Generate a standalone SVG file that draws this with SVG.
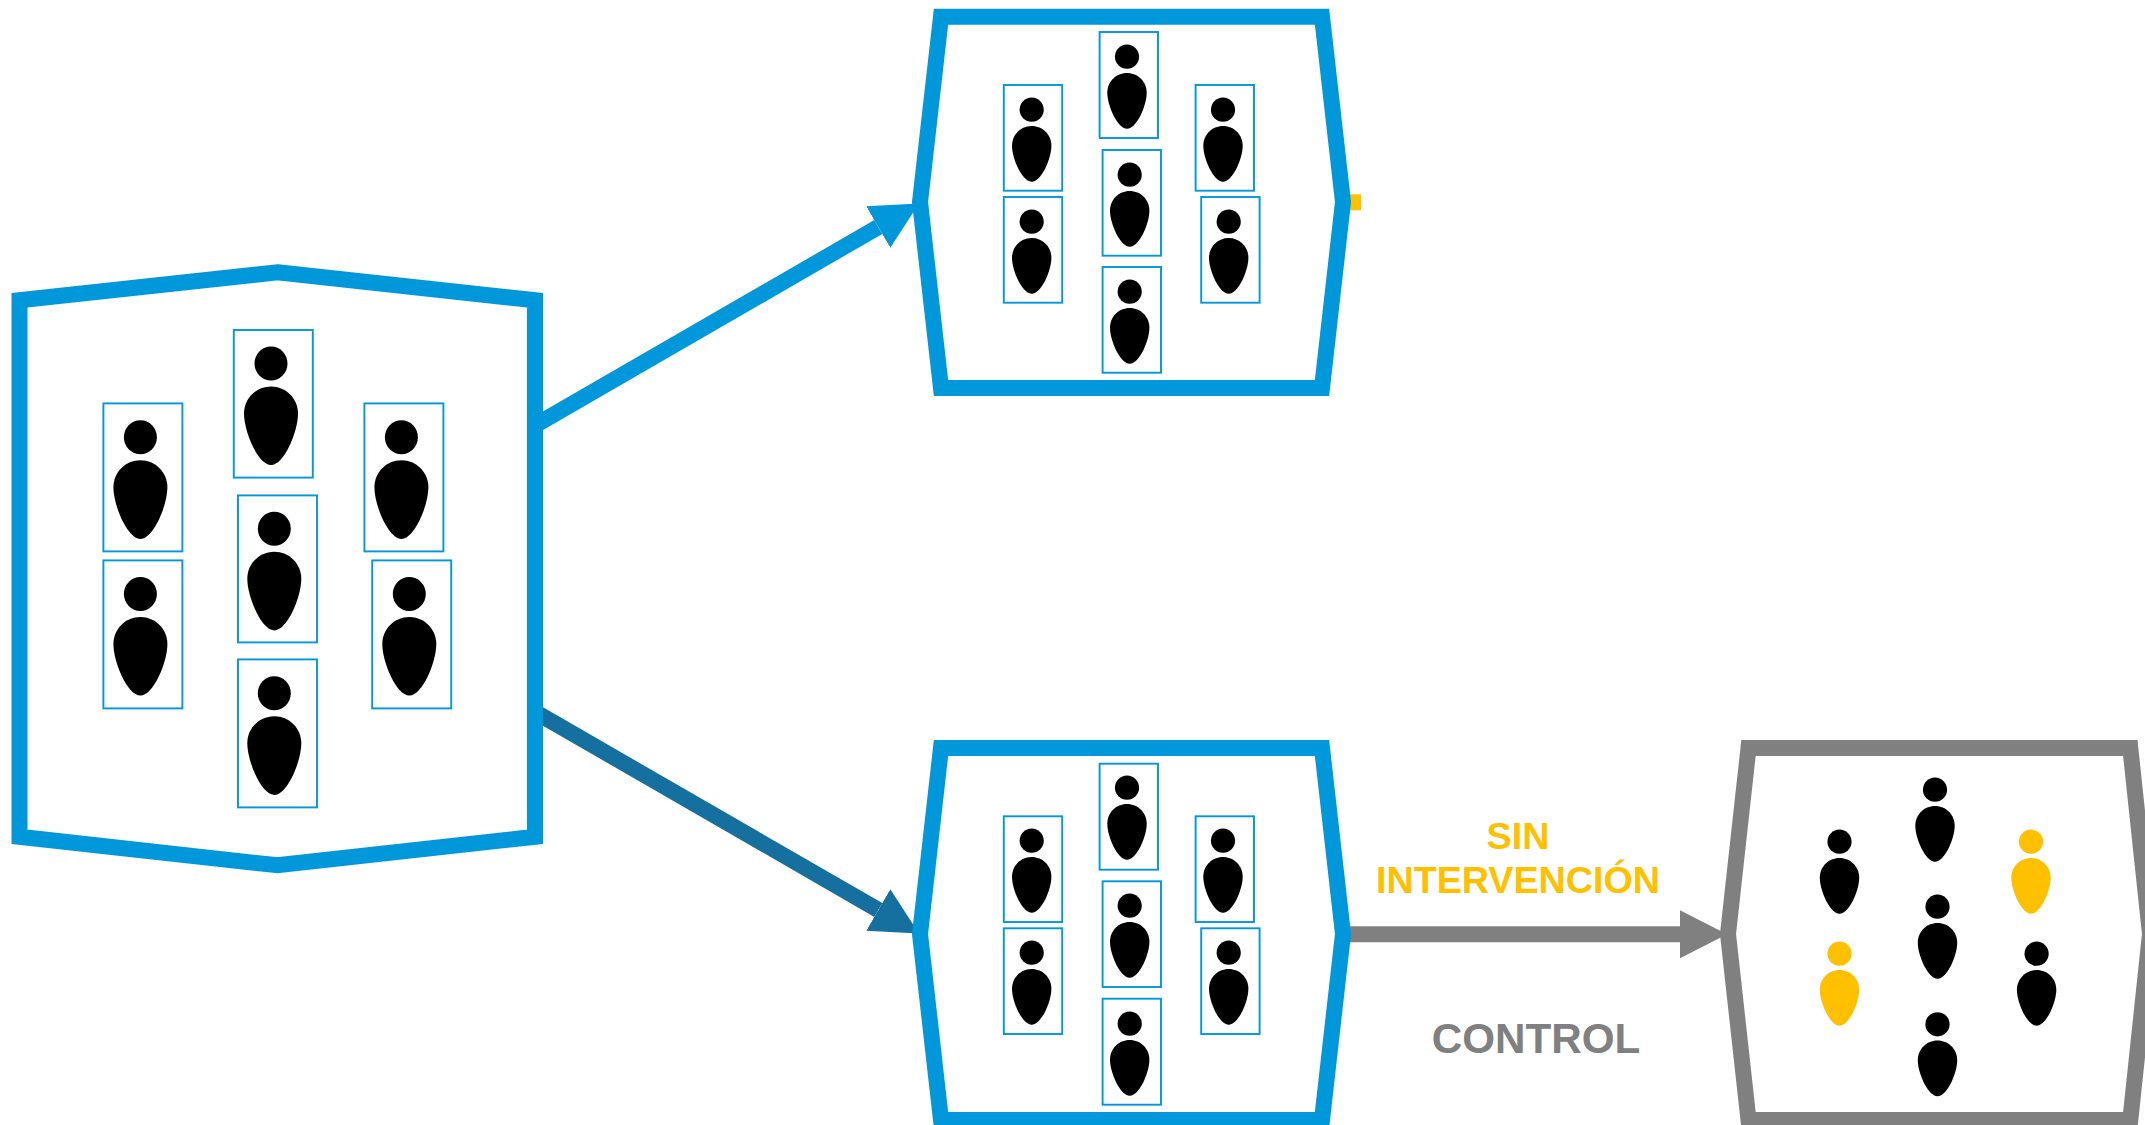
<svg xmlns="http://www.w3.org/2000/svg" width="2145" height="1125" viewBox="0 0 2145 1125">
<style>
.frame{fill:#fff;stroke-width:16;stroke-miterlimit:20}
.blue{stroke:#0098da}
.gray{stroke:#808080}
.box{fill:#fff;stroke:#0098da;stroke-width:1.9}
.link{fill:none;stroke-width:16}
.lbl{font-family:"Liberation Sans",Arial,sans-serif;font-weight:700;text-anchor:middle}
.k{fill:#000}
.y{fill:#ffc000}
</style>
<defs>
<g id="pL"><ellipse cx="0" cy="0" rx="16.5" ry="17"/><path d="M0,22.9C15,22.9 27,35 27,50C27,68 13,101.6 0,101.6C-13,101.6 -27,68 -27,50C-27,35 -15,22.9 0,22.9Z"/></g>
<g id="pM"><ellipse cx="0" cy="0" rx="12.1" ry="12.1"/><path d="M0,16.3C11,16.3 19.7,25 19.7,36C19.7,49 9.5,72 0,72C-9.5,72 -19.7,49 -19.7,36C-19.7,25 -11,16.3 0,16.3Z"/></g>
<marker id="hb" markerUnits="userSpaceOnUse" markerWidth="48" markerHeight="48" refX="0" refY="24" orient="auto"><path d="M0,0L47,24L0,48Z" fill="#0098da"/></marker>
<marker id="hd" markerUnits="userSpaceOnUse" markerWidth="48" markerHeight="48" refX="0" refY="24" orient="auto"><path d="M0,0L47,24L0,48Z" fill="#156f9f"/></marker>
<marker id="hg" markerUnits="userSpaceOnUse" markerWidth="48" markerHeight="48" refX="0" refY="24" orient="auto"><path d="M0,0L47,24L0,48Z" fill="#808080"/></marker>
</defs>
<rect width="2145" height="1125" fill="#fff"/>
<g id="connectors">
<line class="link" x1="530" y1="428.2" x2="878.3" y2="227" stroke="#0098da" marker-end="url(#hb)"/>
<line class="link" x1="530" y1="709" x2="878.3" y2="910" stroke="#156f9f" marker-end="url(#hd)"/>
<line class="link" x1="1345" y1="934.3" x2="1680" y2="934.3" stroke="#808080" marker-end="url(#hg)"/>
<rect x="1345" y="194.3" width="16" height="16" fill="#ffc000"/>
</g>
<g id="poblacion">
<polygon class="frame blue" points="277.5,272.3 535,300.3 535,836.8 277.5,865.3 19.5,836.8 19.5,300.3"/>
<g class="k">
<rect class="box" x="103.4" y="403.4" width="79" height="148"/><use href="#pL" transform="translate(140.4,437.3)"/>
<rect class="box" x="233.8" y="330" width="79" height="147.6"/><use href="#pL" transform="translate(271,363.5)"/>
<rect class="box" x="364.4" y="403.4" width="79" height="148"/><use href="#pL" transform="translate(401.4,437.3)"/>
<rect class="box" x="103.4" y="560.4" width="79" height="148"/><use href="#pL" transform="translate(140.4,594)"/>
<rect class="box" x="238" y="495.4" width="79" height="147"/><use href="#pL" transform="translate(274.3,528.8)"/>
<rect class="box" x="372.2" y="560.4" width="79" height="148"/><use href="#pL" transform="translate(409.3,594)"/>
<rect class="box" x="238" y="659.4" width="79" height="148"/><use href="#pL" transform="translate(274.3,693.3)"/>
</g>
</g>
<g id="grupo-intervencion">
<polygon class="frame blue" points="941,16.7 1322,16.7 1343,202 1322,388 941,388 920,202"/>
<g class="k">
<rect class="box" x="1003.8" y="85" width="58.4" height="105.7"/><use href="#pM" transform="translate(1031.7,109.7)"/>
<rect class="box" x="1099.6" y="32" width="58.4" height="106"/><use href="#pM" transform="translate(1127,56.7)"/>
<rect class="box" x="1195.6" y="85" width="58.4" height="105.7"/><use href="#pM" transform="translate(1223,109.7)"/>
<rect class="box" x="1003.8" y="197" width="58.4" height="105.7"/><use href="#pM" transform="translate(1031.7,221.7)"/>
<rect class="box" x="1102.6" y="150" width="58.4" height="105.7"/><use href="#pM" transform="translate(1129.7,174.7)"/>
<rect class="box" x="1201.2" y="197" width="58.4" height="105.7"/><use href="#pM" transform="translate(1228.7,221.7)"/>
<rect class="box" x="1102.6" y="267" width="58.4" height="105.7"/><use href="#pM" transform="translate(1129.7,291.7)"/>
</g>
</g>
<g id="grupo-control">
<polygon class="frame blue" points="941,748 1322,748 1343,934 1322,1120 941,1120 920,934"/>
<g class="k">
<rect class="box" x="1003.8" y="816.3" width="58.4" height="105.7"/><use href="#pM" transform="translate(1031.7,840.7)"/>
<rect class="box" x="1099.6" y="763.7" width="58.4" height="106"/><use href="#pM" transform="translate(1127,787.7)"/>
<rect class="box" x="1195.6" y="816.3" width="58.4" height="105.7"/><use href="#pM" transform="translate(1223,840.7)"/>
<rect class="box" x="1003.8" y="928.3" width="58.4" height="105.7"/><use href="#pM" transform="translate(1031.7,952.7)"/>
<rect class="box" x="1102.6" y="881.3" width="58.4" height="105.7"/><use href="#pM" transform="translate(1129.7,905.7)"/>
<rect class="box" x="1201.2" y="928.3" width="58.4" height="105.7"/><use href="#pM" transform="translate(1228.7,952.7)"/>
<rect class="box" x="1102.6" y="998.7" width="58.4" height="106"/><use href="#pM" transform="translate(1129.7,1023.7)"/>
</g>
</g>
<g id="resultado">
<polygon class="frame gray" points="1748.5,748 2130.3,748 2150,934 2130.3,1120 1748.5,1120 1728,934"/>
<use class="k" href="#pM" transform="translate(1839.5,841.7)"/>
<use class="k" href="#pM" transform="translate(1935,789.7)"/>
<use class="y" href="#pM" transform="translate(2031,841.7)"/>
<use class="y" href="#pM" transform="translate(1839.5,953.7)"/>
<use class="k" href="#pM" transform="translate(1937.5,906.7)"/>
<use class="k" href="#pM" transform="translate(2036.6,953.7)"/>
<use class="k" href="#pM" transform="translate(1937.5,1024.3)"/>
</g>
<g id="etiquetas">
<text class="lbl" x="1518" y="849.3" font-size="37.7" fill="#ffc000">SIN</text>
<text class="lbl" x="1518" y="892.7" font-size="37.7" fill="#ffc000">INTERVENCIÓN</text>
<text class="lbl" x="1536" y="1052.7" font-size="42.2" fill="#808080">CONTROL</text>
</g>
</svg>
